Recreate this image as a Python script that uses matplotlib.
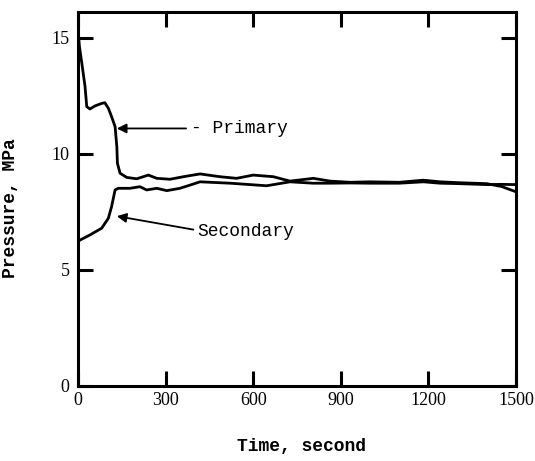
import matplotlib
matplotlib.use("Agg")
import matplotlib.pyplot as plt

# Time (s) and pressure (MPa)
primary_t = [0, 5, 13, 24, 30, 41, 58, 81, 92, 104, 115, 127, 133, 135, 144,
             167, 201, 241, 270, 315, 361, 418, 486, 543, 600, 669, 726, 806,
             863, 932, 1000, 1100, 1183, 1240, 1308, 1400, 1450, 1500]
primary_p = [15.4, 14.6, 13.9, 12.9, 12.02, 11.92, 12.05, 12.16, 12.19, 11.95,
             11.59, 11.16, 10.29, 9.58, 9.15, 8.97, 8.91, 9.07, 8.93, 8.89,
             9.0, 9.12, 9.0, 8.93, 9.07, 9.0, 8.81, 8.93, 8.81, 8.76, 8.78,
             8.76, 8.85, 8.78, 8.74, 8.7, 8.58, 8.35]

secondary_t = [0, 7, 41, 81, 104, 115, 127, 138, 178, 212, 235, 270, 304, 349,
               384, 418, 521, 646, 726, 806, 863, 932, 1000, 1100, 1183, 1240,
               1308, 1400, 1450, 1500]
secondary_p = [6.2, 6.27, 6.49, 6.78, 7.21, 7.71, 8.43, 8.5, 8.5, 8.57, 8.43,
               8.5, 8.4, 8.5, 8.64, 8.78, 8.72, 8.61, 8.78, 8.72, 8.72, 8.73,
               8.72, 8.72, 8.78, 8.72, 8.7, 8.66, 8.67, 8.66]

x_ticks = [0, 300, 600, 900, 1200, 1500]
y_ticks = [0, 5, 10, 15]

mono = "Liberation Mono"
serif = "Liberation Serif"

fig = plt.figure(figsize=(5.35, 4.61), dpi=100)
ax = fig.add_axes([78 / 535, 1 - 385.5 / 461, 438 / 535, 373.5 / 461])

ax.plot(primary_t, primary_p, color="black", lw=2.0, solid_joinstyle="round")
ax.plot(secondary_t, secondary_p, color="black", lw=2.0, solid_joinstyle="round")

ax.set_xlim(0, 1500)
ax.set_ylim(0, 16.1)
ax.set_xticks(x_ticks)
ax.set_yticks(y_ticks)
ax.set_xticklabels([str(v) for v in x_ticks], family=serif, fontsize=13)
ax.set_yticklabels([str(v) for v in y_ticks], family=serif, fontsize=13)
ax.tick_params(direction="in", length=11, width=2.2, top=True, right=True,
               color="black")
ax.tick_params(axis="x", pad=5)
ax.tick_params(axis="y", pad=6)
for s in ax.spines.values():
    s.set_linewidth(2.2)

ax.set_xlabel("Time, second", family=mono, fontweight="bold", fontsize=13)
ax.set_ylabel("Pressure, MPa", family=mono, fontweight="bold", fontsize=13)
ax.xaxis.set_label_coords(0.51, -0.14)
ax.yaxis.set_label_coords(-0.135, 0.475)

# callouts
ax.annotate("", xy=(133, 11.08), xytext=(370, 11.08),
            arrowprops=dict(arrowstyle="-|>", color="black", lw=1.3,
                            mutation_scale=14, shrinkA=0, shrinkB=0))
ax.text(388, 11.08, "- Primary", family=mono, fontsize=13, va="center")
ax.annotate("", xy=(133, 7.3), xytext=(395, 6.72),
            arrowprops=dict(arrowstyle="-|>", color="black", lw=1.3,
                            mutation_scale=14, shrinkA=0, shrinkB=0))
ax.text(410, 6.65, "Secondary", family=mono, fontsize=13, va="center")

fig.savefig("out.png", dpi=100)
